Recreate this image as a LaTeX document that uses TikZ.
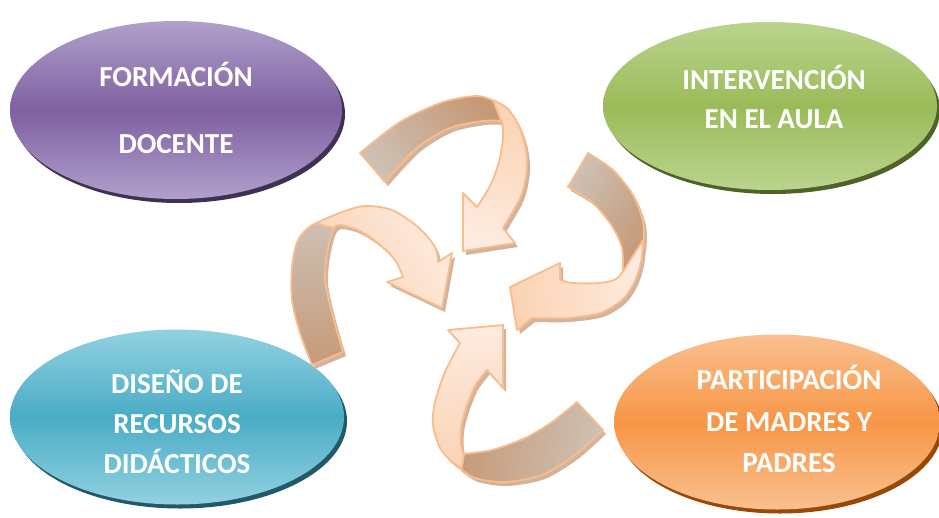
\documentclass[tikz,border=0pt]{standalone}
\usepackage{fontspec}
\setmainfont{Carlito}
\usetikzlibrary{shapes.geometric,shadows}
\definecolor{purpM}{HTML}{7F60A1}
\definecolor{purpL}{HTML}{B0A0CB}
\definecolor{purpD}{HTML}{3F3151}
\definecolor{grnM}{HTML}{9BBB59}
\definecolor{grnL}{HTML}{BAD48E}
\definecolor{grnD}{HTML}{4F6228}
\definecolor{tealM}{HTML}{4AACC6}
\definecolor{tealL}{HTML}{92D1E1}
\definecolor{tealD}{HTML}{215968}
\definecolor{orgM}{HTML}{F79646}
\definecolor{orgL}{HTML}{FAC08F}
\definecolor{orgD}{HTML}{984807}
\definecolor{arEdge}{HTML}{F9BD8B}
\definecolor{tanL}{HTML}{CEC0B4}
\definecolor{tanD}{HTML}{C69A78}
\definecolor{peachD}{HTML}{FBD3B4}
\definecolor{peachL}{HTML}{FDEBDF}
\definecolor{arShadow}{HTML}{D3B39B}
\tikzset{
  blob/.style n args={3}{ellipse, inner sep=0pt, top color=#1, bottom color=#1, middle color=#2,
     drop shadow={shadow xshift=3pt, shadow yshift=-4pt, fill=#3, opacity=1}},
  txt/.style={text=white, align=center, inner sep=0pt},
  face/.style={draw=arEdge, line width=1.8pt, line join=round},
  tanface/.style n args={3}{face, top color=#1, bottom color=#2, shading angle=#3},
  arshad/.style={fill=arShadow, shift={(3,4)}}
}
\begin{document}
\begin{tikzpicture}[x=1pt,y=-1pt]
\useasboundingbox (0,0) rectangle (939,517);
% ellipses
\node[blob={purpL}{purpM}{purpD}, minimum width=332pt, minimum height=178pt] (fd) at (176,110) {};
\node[blob={grnL}{grnM}{grnD}, minimum width=334pt, minimum height=168pt] (ia) at (770,106) {};
\node[blob={tealL}{tealM}{tealD}, minimum width=334pt, minimum height=175pt] (rd) at (177,417) {};
\node[blob={orgL}{orgM}{orgD}, minimum width=326pt, minimum height=175pt] (pm) at (777,422) {};
% ---- arrow faces
\def\Ab{plot[smooth] coordinates {(360,153) (400,122) (443,102) (477,96) (494,101)} -- (501,121) -- plot[smooth] coordinates {(501,121) (483,121) (450,128) (417,148) (385,182)} -- cycle}
\def\Af{plot[smooth] coordinates {(493,100) (507,108) (518,124) (525,145) (527,168) (521,196) (503,228)} -- (515,243) -- (463,251) -- (463,193) -- plot[smooth] coordinates {(477,207) (490,186) (499,162) (503,138) (502,122)} -- cycle}
\def\Bb{plot[smooth] coordinates {(588,153) (613,170) (633,195) (643,222) (643,247) (636,266)} -- (623,272) -- plot[smooth] coordinates {(623,272) (622,248) (612,226) (592,202) (568,187)} -- cycle}
\def\Bf{plot[smooth] coordinates {(643,240) (641,262) (634,283) (622,300) (600,313) (567,318) (532,318)} -- (517,330) -- (510,287) -- (560,263) -- plot[smooth] coordinates {(560,280) (573,283) (600,283) (616,279) (624,270)} -- cycle}
\def\Cb{plot[smooth] coordinates {(577,402) (552,422) (525,438) (492,450) (462,454)} -- plot[smooth] coordinates {(458,467) (475,478) (505,482) (542,475) (575,455) (603,430)} -- cycle}
\def\Cf{plot[smooth] coordinates {(460,343) (445,372) (435,402) (433,425) (440,448) (452,462) (462,468)} -- (464,454) -- plot[smooth] coordinates {(464,454) (461,446) (461,428) (466,408) (475,386) (487,370)} -- (503,388) -- (503,325) -- (448,330) -- cycle}
\def\Db{plot[smooth] coordinates {(312,365) (300,333) (292,300) (292,267) (298,240) (312,225) (328,221)} -- (336,226) -- plot[smooth] coordinates {(336,226) (332,232) (327,253) (325,280) (332,313) (343,352)} -- cycle}
\def\Df{plot[smooth] coordinates {(316,223) (342,212) (365,206) (392,210) (418,227) (435,247) (438,262)} -- (452,253) -- (442,308) -- (387,282) -- plot[smooth] coordinates {(403,277) (395,260) (378,243) (358,230) (340,225) (333,228)} -- cycle}
% shadows
\fill[arshad] \Ab; \fill[arshad] \Af;
\fill[arshad] \Bb; \fill[arshad] \Bf;
\fill[arshad] \Cb; \fill[arshad] \Cf;
\fill[arshad] \Db; \fill[arshad] \Df;
% arrow A
\path[tanface={tanD}{tanL}{-50}] \Ab;
\path[tanface={peachD}{peachL}{-20}] \Af;
% arrow B
\path[tanface={tanL}{tanD}{60}] \Bb;
\path[tanface={peachL}{peachD}{-80}] \Bf;
% arrow C
\path[tanface={tanD}{tanL}{80}] \Cb;
\path[tanface={peachL}{peachD}{10}] \Cf;
% arrow D
\path[tanface={tanL}{tanD}{0}] \Db;
\path[tanface={peachL}{peachD}{-60}] \Df;
% texts
\node[txt, font=\bfseries\fontsize{29}{67}\selectfont] (fdt) at (176,108) {FORMACIÓN\\DOCENTE};
\node[txt, font=\bfseries\fontsize{29}{39}\selectfont] (iat) at (774,97) {INTERVENCIÓN\\EN EL AULA};
\node[txt, font=\bfseries\fontsize{29}{40}\selectfont] (rdt) at (177,422) {DISEÑO DE\\RECURSOS\\DIDÁCTICOS};
\node[txt, font=\bfseries\fontsize{29}{41.5}\selectfont] (pmt) at (789,419) {PARTICIPACIÓN\\DE MADRES Y\\PADRES};
\end{tikzpicture}
\end{document}
